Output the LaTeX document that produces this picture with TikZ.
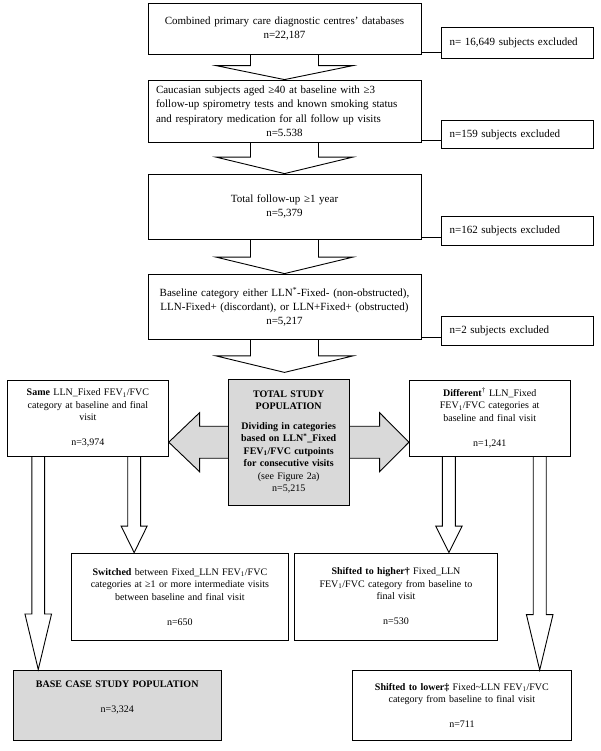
\documentclass[tikz,border=0pt]{standalone}
\usepackage{fontspec}
\setmainfont{Liberation Serif}
\usetikzlibrary{calc,backgrounds}

\definecolor{boxgrey}{RGB}{217,217,217}

% outlined block arrow pointing down: start, end, shaft half width, head half width, head length
\newcommand{\blockdown}[5]{%
  \draw[blockline] let \p1=#1, \p2=#2 in
    (\x1-#3,\y1) -- (\x1-#3,\y2+#5) -- (\x1-#4,\y2+#5) -- (\x1,\y2)
    -- (\x1+#4,\y2+#5) -- (\x1+#3,\y2+#5) -- (\x1+#3,\y1);}

\begin{document}
\begin{tikzpicture}[x=1pt,y=-1pt,
    mainbox/.style={draw, line width=0.9pt, inner sep=0pt, align=center,
                    font=\fontsize{11}{14.2}\selectfont},
    exclbox/.style={draw, line width=0.9pt, inner ysep=0pt, inner xsep=8pt, align=left,
                    text width=135.5, font=\fontsize{11}{14.2}\selectfont},
    smallbox/.style={mainbox, font=\fontsize{10}{12.5}\selectfont},
    greybox/.style={fill=boxgrey},
    blockline/.style={draw, line width=0.9pt, line join=miter},
    dblarrow/.style={draw, fill=boxgrey, line width=0.9pt, line join=miter}]

  \useasboundingbox (0,0) rectangle (600,751);

  % main column
  \node[mainbox, minimum width=273, minimum height=51, text width=262] (c1) at (284.5,28.5)
    {Combined primary care diagnostic centres’ databases\\n=22,187};
  \node[mainbox, minimum width=273, minimum height=62.3, text width=257, align=left] (c2) at (284.5,111.2)
    {Caucasian subjects aged ≥40 at baseline with ≥3\\
     follow-up spirometry tests and known smoking status\\
     and respiratory medication for all follow up visits\\
     \makebox[257pt][c]{n=5.538}};
  \node[mainbox, minimum width=273, minimum height=65.3, text width=262] (c3) at (284.5,206.7)
    {Total follow-up ≥1 year\\n=5,379};
  \node[mainbox, minimum width=273, minimum height=65.3, text width=262] (c4) at (284.5,306.7)
    {Baseline category either LLN\textsuperscript{*}-Fixed- (non-obstructed),\\
     LLN-Fixed+ (discordant), or LLN+Fixed+ (obstructed)\\n=5,217};

  % excluded
  \node[exclbox, minimum height=30.6] (x1) at (517.3,43) {n= 16,649 subjects excluded};
  \node[exclbox, minimum height=27.6] (x2) at (517.3,134.5) {n=159 subjects excluded};
  \node[exclbox, minimum height=29] (x3) at (517.3,230.5) {n=162 subjects excluded};
  \node[exclbox, minimum height=29] (x4) at (517.3,330.5) {n=2 subjects excluded};

  \draw[line width=0.9pt] ([yshift=2pt]c1.south east) -- ([yshift=2pt]c1.south east -| x1.west);
  \draw[line width=0.9pt] ([yshift=2pt]c2.south east) -- ([yshift=2pt]c2.south east -| x2.west);
  \draw[line width=0.9pt] ([yshift=2pt]c3.south east) -- ([yshift=2pt]c3.south east -| x3.west);
  \draw[line width=0.9pt] ([yshift=2pt]c4.south east) -- ([yshift=2pt]c4.south east -| x4.west);

  % split
  \node[smallbox, minimum width=160.8, minimum height=76, text width=150] (same) at (87.9,418)
    {\textbf{Same} LLN\_Fixed FEV\textsubscript{1}/FVC\\category at baseline and final\\visit\\[12.5pt]n=3,974};
  \node[smallbox, greybox, minimum width=120.7, minimum height=125.7, text width=112] (total) at (288.7,442.2)
    {\textbf{TOTAL STUDY}\\\textbf{POPULATION}\\[7pt]
     \textbf{Dividing in categories}\\\textbf{based on LLN\textsuperscript{*}\_Fixed}\\
     \textbf{FEV\textsubscript{1}/FVC cutpoints}\\\textbf{for consecutive visits}\\
     (see Figure 2a)\\n=5,215};
  \node[smallbox, minimum width=160.7, minimum height=76, text width=150] (diff) at (489.7,418)
    {\textbf{Different}\textsuperscript{†} LLN\_Fixed\\FEV\textsubscript{1}/FVC categories at\\baseline and final visit\\[12.5pt]n=1,241};

  \node[smallbox, minimum width=216.3, minimum height=87.5, text width=206] (switched) at (179.9,596.8)
    {\textbf{Switched} between Fixed\_LLN FEV\textsubscript{1}/FVC\\categories at ≥1 or more intermediate visits\\between baseline and final visit\\[12.5pt]n=650};
  \node[smallbox, minimum width=202.7, minimum height=87, text width=192] (higher) at (396,596.5)
    {\textbf{Shifted to higher†} Fixed\_LLN\\FEV\textsubscript{1}/FVC category from baseline to\\final visit\\[12.5pt]n=530};
  \node[smallbox, greybox, minimum width=207.7, minimum height=70.5, text width=198] (base) at (117.2,705.2)
    {\textbf{BASE CASE STUDY POPULATION}\\[13pt]n=3,324\\[5pt]\mbox{}};
  \node[smallbox, minimum width=218.2, minimum height=70, text width=208] (lower) at (461.9,705.5)
    {\textbf{Shifted to lower‡} Fixed\textasciitilde LLN FEV\textsubscript{1}/FVC\\category from baseline to final visit\\[12.5pt]n=711};

  \begin{scope}[on background layer]
    \path[dblarrow] let \p1=(same.east |- total.center), \p2=(diff.west |- total.center) in
      (\p1) -- (\x1+30.8,\y1+29.5) -- (\x1+30.8,\y1+16) -- (\x2-29.3,\y1+16)
      -- (\x2-29.3,\y1+29.5) -- (\p2) -- (\x2-29.3,\y1-29.5) -- (\x2-29.3,\y1-16)
      -- (\x1+30.8,\y1-16) -- (\x1+30.8,\y1-29.5) -- cycle;
  \end{scope}

  % block arrows
  \blockdown{(c1.south)}{(c2.north)}{34}{68.5}{14}
  \blockdown{(c2.south)}{(c3.north)}{34}{68.5}{16.5}
  \blockdown{(c3.south)}{(c4.north)}{34}{68.5}{16.5}
  \blockdown{(c4.south)}{([yshift=6.5pt]total.north)}{34}{68.5}{16.5}
  \blockdown{([xshift=31.2pt]same.south west)}{(base.north)}{6.4}{13.3}{55.5}
  \blockdown{([xshift=-34.6pt]same.south east)}{(switched.north)}{6.4}{13}{26.5}
  \blockdown{([xshift=40pt]diff.south west)}{(higher.north)}{6.5}{13.2}{26.5}
  \blockdown{([xshift=-30.8pt]diff.south east)}{(lower.north)}{6.5}{13.3}{55.5}
\end{tikzpicture}
\end{document}
